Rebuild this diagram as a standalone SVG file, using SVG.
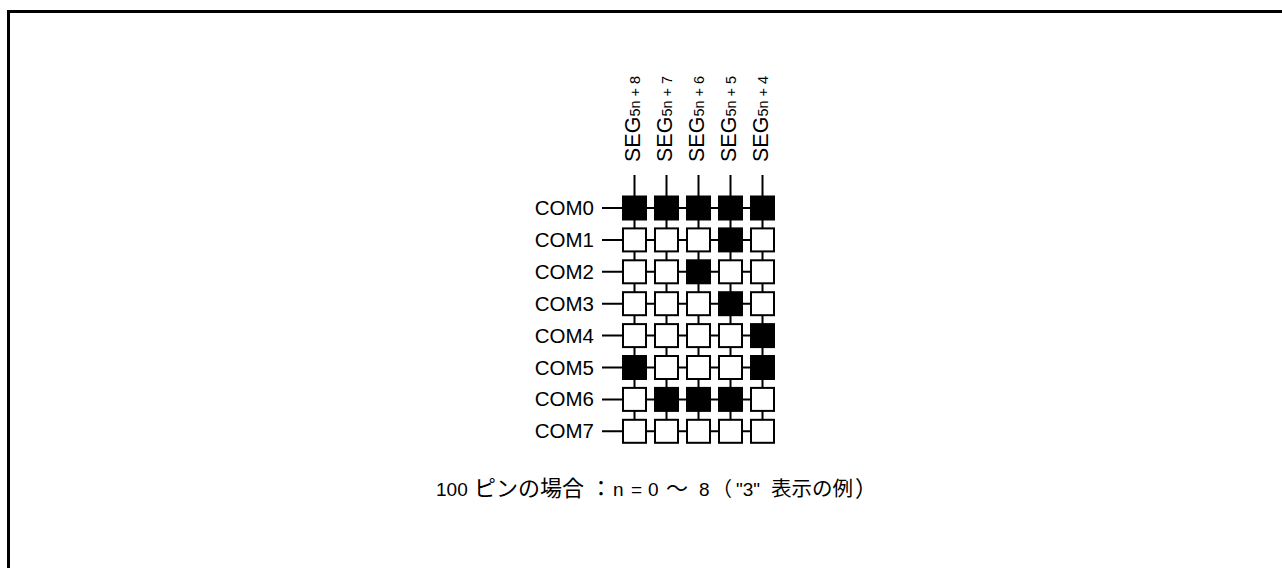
<svg xmlns="http://www.w3.org/2000/svg" width="1282" height="568" viewBox="0 0 1282 568">
<style>
.cell{stroke:#000;stroke-width:2}
.off{fill:#fff}
.on{fill:#000}
.wire{stroke:#000;stroke-width:2;fill:none}
.com{font-family:"Liberation Sans",Arial,sans-serif;font-size:20.5px;fill:#000;text-anchor:end}
.seg{font-family:"Liberation Sans",Arial,sans-serif;font-size:21.5px;fill:#000}
.sub{font-size:14.5px}
.cap{font-family:"Liberation Sans",Arial,"Noto Sans CJK JP",sans-serif;font-size:19px;fill:#000}
.jp{font-family:"Noto Sans CJK JP","Liberation Sans",sans-serif;font-size:22px}
</style>
<rect width="1282" height="568" fill="#fff"/>
<path d="M8.5 568V11.5H1282" fill="none" stroke="#000" stroke-width="3"/>
<g id="connectors" class="wire">
<path d="M634.5 175V431.3M666.5 175V431.3M698.5 175V431.3M730.5 175V431.3M762.5 175V431.3"/>
<path d="M602 208H762.5M602 239.9H762.5M602 271.8H762.5M602 303.7H762.5M602 335.6H762.5M602 367.5H762.5M602 399.4H762.5M602 431.3H762.5"/>
</g>
<g id="seg-labels">
<g id="seg8"><text class="seg" transform="translate(640,162) rotate(-90)">SEG<tspan class="sub">5n + 8</tspan></text></g>
<g id="seg7"><text class="seg" transform="translate(672,162) rotate(-90)">SEG<tspan class="sub">5n + 7</tspan></text></g>
<g id="seg6"><text class="seg" transform="translate(704,162) rotate(-90)">SEG<tspan class="sub">5n + 6</tspan></text></g>
<g id="seg5"><text class="seg" transform="translate(736,162) rotate(-90)">SEG<tspan class="sub">5n + 5</tspan></text></g>
<g id="seg4"><text class="seg" transform="translate(768,162) rotate(-90)">SEG<tspan class="sub">5n + 4</tspan></text></g>
</g>
<g id="com-labels">
<g id="com0"><text class="com" x="594" y="215">COM0</text></g>
<g id="com1"><text class="com" x="594" y="246.9">COM1</text></g>
<g id="com2"><text class="com" x="594" y="278.8">COM2</text></g>
<g id="com3"><text class="com" x="594" y="310.7">COM3</text></g>
<g id="com4"><text class="com" x="594" y="342.6">COM4</text></g>
<g id="com5"><text class="com" x="594" y="374.5">COM5</text></g>
<g id="com6"><text class="com" x="594" y="406.4">COM6</text></g>
<g id="com7"><text class="com" x="594" y="438.3">COM7</text></g>
</g>
<g id="cells">
<g id="r0"><rect id="c0-0" class="cell on" x="623" y="196.5" width="23" height="23"/><rect id="c0-1" class="cell on" x="655" y="196.5" width="23" height="23"/><rect id="c0-2" class="cell on" x="687" y="196.5" width="23" height="23"/><rect id="c0-3" class="cell on" x="719" y="196.5" width="23" height="23"/><rect id="c0-4" class="cell on" x="751" y="196.5" width="23" height="23"/></g>
<g id="r1"><rect id="c1-0" class="cell off" x="623" y="228.4" width="23" height="23"/><rect id="c1-1" class="cell off" x="655" y="228.4" width="23" height="23"/><rect id="c1-2" class="cell off" x="687" y="228.4" width="23" height="23"/><rect id="c1-3" class="cell on" x="719" y="228.4" width="23" height="23"/><rect id="c1-4" class="cell off" x="751" y="228.4" width="23" height="23"/></g>
<g id="r2"><rect id="c2-0" class="cell off" x="623" y="260.3" width="23" height="23"/><rect id="c2-1" class="cell off" x="655" y="260.3" width="23" height="23"/><rect id="c2-2" class="cell on" x="687" y="260.3" width="23" height="23"/><rect id="c2-3" class="cell off" x="719" y="260.3" width="23" height="23"/><rect id="c2-4" class="cell off" x="751" y="260.3" width="23" height="23"/></g>
<g id="r3"><rect id="c3-0" class="cell off" x="623" y="292.2" width="23" height="23"/><rect id="c3-1" class="cell off" x="655" y="292.2" width="23" height="23"/><rect id="c3-2" class="cell off" x="687" y="292.2" width="23" height="23"/><rect id="c3-3" class="cell on" x="719" y="292.2" width="23" height="23"/><rect id="c3-4" class="cell off" x="751" y="292.2" width="23" height="23"/></g>
<g id="r4"><rect id="c4-0" class="cell off" x="623" y="324.1" width="23" height="23"/><rect id="c4-1" class="cell off" x="655" y="324.1" width="23" height="23"/><rect id="c4-2" class="cell off" x="687" y="324.1" width="23" height="23"/><rect id="c4-3" class="cell off" x="719" y="324.1" width="23" height="23"/><rect id="c4-4" class="cell on" x="751" y="324.1" width="23" height="23"/></g>
<g id="r5"><rect id="c5-0" class="cell on" x="623" y="356" width="23" height="23"/><rect id="c5-1" class="cell off" x="655" y="356" width="23" height="23"/><rect id="c5-2" class="cell off" x="687" y="356" width="23" height="23"/><rect id="c5-3" class="cell off" x="719" y="356" width="23" height="23"/><rect id="c5-4" class="cell on" x="751" y="356" width="23" height="23"/></g>
<g id="r6"><rect id="c6-0" class="cell off" x="623" y="387.9" width="23" height="23"/><rect id="c6-1" class="cell on" x="655" y="387.9" width="23" height="23"/><rect id="c6-2" class="cell on" x="687" y="387.9" width="23" height="23"/><rect id="c6-3" class="cell on" x="719" y="387.9" width="23" height="23"/><rect id="c6-4" class="cell off" x="751" y="387.9" width="23" height="23"/></g>
<g id="r7"><rect id="c7-0" class="cell off" x="623" y="419.8" width="23" height="23"/><rect id="c7-1" class="cell off" x="655" y="419.8" width="23" height="23"/><rect id="c7-2" class="cell off" x="687" y="419.8" width="23" height="23"/><rect id="c7-3" class="cell off" x="719" y="419.8" width="23" height="23"/><rect id="c7-4" class="cell off" x="751" y="419.8" width="23" height="23"/></g>
</g>
<g id="caption">
<text class="cap" y="496"><tspan x="436">100</tspan><tspan class="jp" x="474">ピンの場合</tspan><tspan class="jp" x="590">：</tspan><tspan x="613">n</tspan><tspan x="631">=</tspan><tspan x="648">0</tspan><tspan class="jp" x="666">～</tspan><tspan x="699">8</tspan><tspan class="jp" x="712" style="font-size:20px">（</tspan><tspan x="736">"3"</tspan><tspan class="jp" x="771" style="font-size:20.5px">表示の例</tspan><tspan class="jp" x="855">）</tspan></text>
</g>
</svg>
